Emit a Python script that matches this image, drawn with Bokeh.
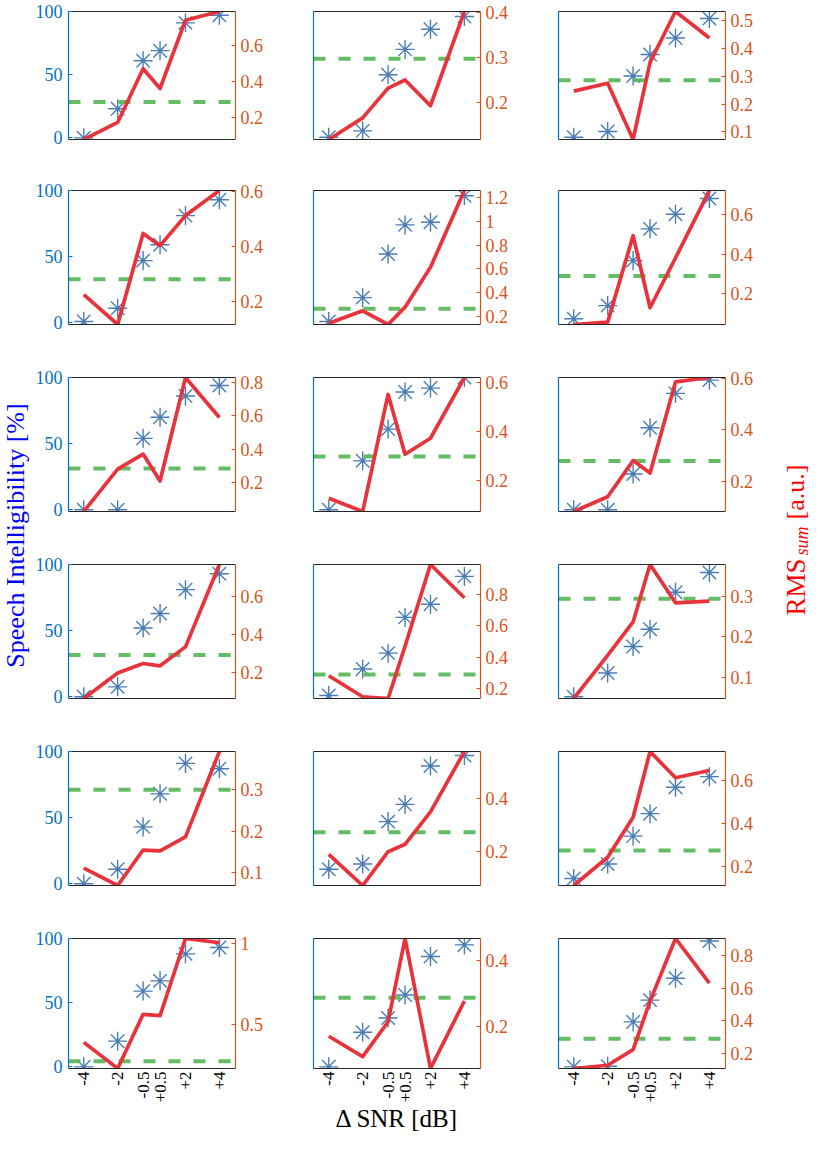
import math
from bokeh.plotting import figure
from bokeh.models import (Range1d, LinearAxis, FixedTicker, Label,
                          CustomJSTickFormatter, ColumnDataSource)
from bokeh.layouts import row, column
from bokeh.embed import file_html
from bokeh.resources import INLINE

# ---------------- data ----------------
snr = [-4, -2, -0.5, 0.5, 2, 4]
snr_labels = ["-4", "-2", "-0.5", "+0.5", "+2", "+4"]
si_ticks = [0, 50, 100]

# speech intelligibility [%] per panel (row-major, 6 rows x 3 cols)
si_1 = [0, 23, 61, 69, 91, 97]
si_2 = [0.5, 5.5, 50, 70, 86, 96]
si_3 = [0.5, 5, 49, 66, 79, 94.5]
si_4 = [1, 11, 47, 59, 81, 93]
si_5 = [1, 19, 52, 74, 76, 96]
si_6 = [3, 13, 47, 71, 82, 94]
si_7 = [0, 0, 54, 70, 86, 94]
si_8 = [0, 37, 61, 89, 92, 100]
si_9 = [0, 0, 27, 62, 88, 98]
si_10 = [0, 7.5, 52, 63, 81, 93]
si_11 = [1, 21, 33, 60, 70, 91]
si_12 = [0, 18, 38, 51, 79, 94]
si_13 = [0, 11, 43, 68, 91, 87]
si_14 = [11, 15, 47, 60, 89, 97]
si_15 = [4, 15, 36, 53, 73, 81]
si_16 = [0, 20, 59, 67, 88, 93]
si_17 = [0, 27, 38, 56, 86, 95]
si_18 = [0, 0.5, 35, 52, 69, 98]

# RMS_sum [a.u.] per panel
rms_1 = [0.080, 0.174, 0.470, 0.361, 0.737, 0.785]
rms_2 = [0.119, 0.167, 0.233, 0.251, 0.194, 0.403]
rms_3 = [0.247, 0.275, 0.073, 0.350, 0.533, 0.438]
rms_4 = [0.224, 0.116, 0.446, 0.402, 0.511, 0.602]
rms_5 = [0.145, 0.250, 0.135, 0.280, 0.614, 1.256]
rms_6 = [0.042, 0.054, 0.493, 0.127, 0.380, 0.723]
rms_7 = [0.025, 0.280, 0.370, 0.208, 0.830, 0.590]
rms_8 = [0.129, 0.075, 0.551, 0.308, 0.373, 0.620]
rms_9 = [0.086, 0.143, 0.282, 0.234, 0.585, 0.602]
rms_10 = [0.064, 0.197, 0.247, 0.235, 0.334, 0.765]
rms_11 = [0.282, 0.148, 0.137, 0.470, 0.990, 0.778]
rms_12 = [0.049, 0.155, 0.237, 0.378, 0.284, 0.288]
rms_13 = [0.110, 0.068, 0.154, 0.152, 0.186, 0.393]
rms_14 = [0.190, 0.0725, 0.200, 0.228, 0.350, 0.578]
rms_15 = [0.112, 0.243, 0.429, 0.734, 0.612, 0.646]
rms_16 = [0.390, 0.229, 0.563, 0.555, 1.030, 1.004]
rms_17 = [0.169, 0.107, 0.213, 0.466, 0.071, 0.276]
rms_18 = [0.107, 0.127, 0.223, 0.520, 0.904, 0.630]

# green dashed reference level per panel (right axis units)
threshold = [0.286, 0.298, 0.286, 0.280, 0.267, 0.288,
             0.283, 0.299, 0.280, 0.292, 0.289, 0.294,
             0.300, 0.273, 0.274, 0.273, 0.286, 0.289]

# right-axis tick values per panel
rms_ticks = [
    [0.2, 0.4, 0.6], [0.2, 0.3, 0.4], [0.1, 0.2, 0.3, 0.4, 0.5],
    [0.2, 0.4, 0.6], [0.2, 0.4, 0.6, 0.8, 1, 1.2], [0.2, 0.4, 0.6],
    [0.2, 0.4, 0.6, 0.8], [0.2, 0.4, 0.6], [0.2, 0.4, 0.6],
    [0.2, 0.4, 0.6], [0.2, 0.4, 0.6, 0.8], [0.1, 0.2, 0.3],
    [0.1, 0.2, 0.3], [0.2, 0.4], [0.2, 0.4, 0.6],
    [0.5, 1], [0.2, 0.4], [0.2, 0.4, 0.6, 0.8],
]

si_all = [si_1, si_2, si_3, si_4, si_5, si_6, si_7, si_8, si_9,
          si_10, si_11, si_12, si_13, si_14, si_15, si_16, si_17, si_18]
rms_all = [rms_1, rms_2, rms_3, rms_4, rms_5, rms_6, rms_7, rms_8, rms_9,
           rms_10, rms_11, rms_12, rms_13, rms_14, rms_15, rms_16, rms_17, rms_18]

# ---------------- style / geometry ----------------
FONT = "Liberation Serif"
BLUE_AX = "#0072BD"
ORANGE_AX = "#D95319"
DARK = "#262626"
STAR = "#4A7DB5"
RED = "#E8333B"
GREEN = "#5CB85C"

XLIM = (-4.9, 4.95)
YLIM = (-1.3, 100)

FRAME_W = 167
FRAME_H = [128, 134, 134, 134, 134, 134]
LEFT_LABEL_W = 30
RIGHT_LABEL_W = 44
COL_LEFT = [38, 39, 39]
COL_RIGHT = [39, 39, 44]
ROW_TOP = [11, 26, 27, 27, 27, 27]
ROW_BOTTOM = [25, 26, 26, 26, 26, 63]
TOTAL_H = sum(ROW_TOP) + sum(ROW_BOTTOM) + sum(FRAME_H)


def style_axis(ax, color, ticks_in=4):
    ax.axis_line_color = color
    ax.axis_line_width = 1.2
    ax.major_tick_line_color = color
    ax.major_tick_in = ticks_in
    ax.major_tick_out = 0
    ax.minor_tick_line_color = None
    ax.major_label_text_color = color
    ax.major_label_text_font = FONT
    ax.major_label_text_font_size = "18px"


def make_panel(r, c, idx):
    si = si_all[idx]
    rms = rms_all[idx]
    lb, rb = COL_LEFT[c], COL_RIGHT[c]
    tb, bb = ROW_TOP[r], ROW_BOTTOM[r]
    p = figure(width=lb + FRAME_W + rb, height=tb + FRAME_H[r] + bb,
               x_range=Range1d(*XLIM), y_range=Range1d(*YLIM),
               toolbar_location=None, output_backend="svg",
               min_border_left=lb, min_border_right=rb,
               min_border_top=tb, min_border_bottom=bb)
    p.extra_y_ranges = {"rms": Range1d(min(rms), max(rms))}
    p.grid.visible = False
    p.outline_line_color = None
    p.background_fill_color = "white"
    p.border_fill_color = "white"

    # left axis (speech intelligibility)
    ya = p.yaxis[0]
    style_axis(ya, BLUE_AX)
    ya.ticker = FixedTicker(ticks=si_ticks if c == 0 else [])
    ya.major_label_standoff = 6

    # bottom axis
    xa = p.xaxis[0]
    style_axis(xa, DARK, ticks_in=0)
    xa.major_label_text_color = "black"
    if r == 5:
        xa.ticker = FixedTicker(ticks=snr)
        xa.formatter = CustomJSTickFormatter(
            args=dict(vals=snr, labs=snr_labels),
            code="""
            for (let i = 0; i < vals.length; i++) {
                if (Math.abs(vals[i] - tick) < 1e-9) return labs[i];
            }
            return '';
            """)
        xa.major_label_orientation = math.pi / 2
        xa.major_label_text_font_size = "17px"
        xa.major_label_standoff = 3
        if c == 1:
            xa.axis_label = "Δ SNR [dB]"
            xa.axis_label_text_font = FONT
            xa.axis_label_text_font_size = "25px"
            xa.axis_label_text_font_style = "normal"
            xa.axis_label_text_color = "black"
            xa.axis_label_standoff = 0
    else:
        xa.ticker = FixedTicker(ticks=[])

    # top axis (box line)
    ta = LinearAxis(ticker=FixedTicker(ticks=[]))
    style_axis(ta, DARK, ticks_in=0)
    ta.major_label_standoff = 0
    ta.axis_label_standoff = 0
    p.add_layout(ta, "above")

    # right axis (RMS_sum)
    ra = LinearAxis(y_range_name="rms", ticker=FixedTicker(ticks=rms_ticks[idx]),
                    formatter=CustomJSTickFormatter(
                        code="return String(Math.round(tick * 1000) / 1000);"))
    style_axis(ra, ORANGE_AX)
    ra.major_label_standoff = 5
    p.add_layout(ra, "right")

    src = ColumnDataSource(dict(snr=snr, si=si, rms=rms))
    p.scatter("snr", "si", source=src, marker="asterisk", size=19,
              line_color=STAR, line_width=1.4)
    p.line(x=[XLIM[0], XLIM[1]], y=[threshold[idx], threshold[idx]],
           y_range_name="rms", line_color=GREEN, line_width=4,
           line_dash="12 13", line_alpha=0.95)
    p.line("snr", "rms", source=src, y_range_name="rms", line_color=RED,
           line_width=3.7, line_join="round")
    return p


rows = []
for r in range(6):
    figs = [make_panel(r, c, r * 3 + c) for c in range(3)]
    rows.append(row(*figs, spacing=0))
grid = column(*rows, spacing=0)


def label_fig(width):
    f = figure(width=width, height=TOTAL_H, x_range=Range1d(0, width),
               y_range=Range1d(0, TOTAL_H), x_axis_location=None,
               y_axis_location=None, toolbar_location=None,
               output_backend="svg", min_border=0)
    f.outline_line_color = None
    f.grid.visible = False
    return f


# page y -> data y in label figures (figure starts at page y = 8)
def py(page_y):
    return TOTAL_H - (page_y - 8)


left_fig = label_fig(LEFT_LABEL_W)
left_fig.add_layout(Label(x=15, y=py(543), text="Speech Intelligibility [%]",
                          angle=math.pi / 2, text_align="center",
                          text_baseline="middle", text_font=FONT,
                          text_font_size="26px", text_color="#0000FF"))

right_fig = label_fig(RIGHT_LABEL_W)
right_fig.add_layout(Label(x=26, y=py(623), text="RMS", angle=math.pi / 2,
                           text_align="left", text_baseline="middle",
                           text_font=FONT, text_font_size="27px",
                           text_color="#FF0000"))
right_fig.add_layout(Label(x=32, y=py(563), text="sum", angle=math.pi / 2,
                           text_align="left", text_baseline="middle",
                           text_font=FONT, text_font_size="18px",
                           text_font_style="italic", text_color="#FF0000"))
right_fig.add_layout(Label(x=26, y=py(527), text="[a.u.]", angle=math.pi / 2,
                           text_align="left", text_baseline="middle",
                           text_font=FONT, text_font_size="26px",
                           text_color="#FF0000"))

layout = row(left_fig, grid, right_fig, spacing=0)

with open("out.html", "w") as fh:
    fh.write(file_html(layout, INLINE, title="Speech intelligibility vs RMS"))
